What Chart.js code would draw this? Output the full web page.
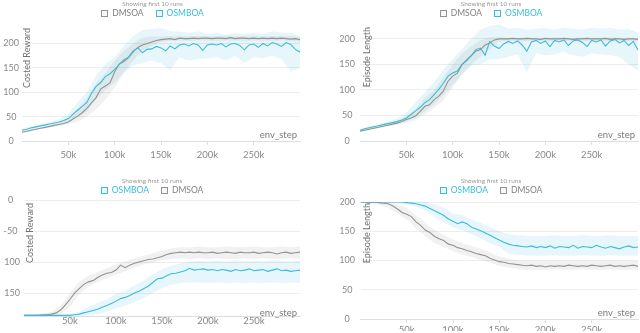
<!DOCTYPE html>
<html><head><meta charset="utf-8">
<script src="https://cdn.jsdelivr.net/npm/chart.js@4.4.1/dist/chart.umd.min.js"></script>
<style>
html,body{margin:0;padding:0;background:#fff;}
#wrap{position:relative;width:640px;height:333px;overflow:hidden;background:#fff;}
canvas{position:absolute;left:0;top:0;}
</style>
</head><body>
<div id="wrap">
<canvas id="c1" width="640" height="333"></canvas>
<canvas id="c2" width="640" height="333"></canvas>
<canvas id="c3" width="640" height="333"></canvas>
<canvas id="c4" width="640" height="333"></canvas>
</div>
<script>
// ---------- DATA ----------
const SUBTITLE = 'Showing first 10 runs';
const seriesNames = ['DMSOA', 'OSMBOA'];
const stepsK = [0,5,10,15,20,25,30,35,40,45,50,55,60,65,70,75,80,85,90,95,100,105,110,115,120,125,130,135,140,145,150,155,160,165,170,175,180,185,190,195,200,205,210,215,220,225,230,235,240,245,250,255,260,265,270,275,280,285,290,295,300];
const bandStepsK = [0,10,20,30,40,50,60,70,80,90,100,110,120,130,140,150,160,170,180,190,200,210,220,230,240,250,260,270,280,290,300];
const xTicksK = [50,100,150,200,250];

// Top-left: Costed Reward
const tlYTicks = [0,50,100,150,200];
const tlDmsoa = [18,20,22,24,26,28,30,32,34,36, 39,45,51,58,67,78,89,107,113,119, 142,158,163,171,183,192,197,200,203,206, 208,209,210,208,211,210,210,211,210,211, 211,210,211,211,210,212,210,211,211,210, 211,210,211,210,211,210,211,210,209,210, 208];
const tlOsmboa = [22,24,27,29,31,33,35,37,39,42, 46,55,63,71,79,98,112,120,132,138, 147,157,167,172,185,191,181,188,189,194, 191,185,195,189,197,199,195,200,197,186, 197,199,197,200,193,199,200,196,187,197, 199,192,200,195,202,199,194,202,198,188, 182];
const tlDmsoaLo = [16,20,24,28,31,34,40,50,65,85, 110,140,165,185,195,203,205,206,205,206, 206,205,206,206,205,206,206,205,206,205, 203];
const tlDmsoaHi = [20,24,28,33,38,46,66,88,118,140, 165,185,200,212,215,214,215,215,215,216, 215,215,216,215,215,216,215,215,216,215, 214];
const tlOsmboaLo = [20,24,28,32,35,38,48,60,85,105, 120,140,155,160,165,160,145,172,165,168, 170,172,165,175,160,172,170,175,168,142, 150];
const tlOsmboaHi = [25,30,34,39,45,56,80,100,135,158, 172,195,215,228,230,232,225,224,222,225, 220,222,218,222,220,222,220,225,222,222, 215];

// Top-right: Episode Length
const trYTicks = [0,50,100,150,200];
const trDmsoa = [19,21,23,25,27,29,31,33,35,38, 42,45,49,58,68,71,81,88,98,117, 127,133,149,159,167,176,179,188,192,198, 200,200,200,201,200,200,201,200,200,199, 201,200,200,200,201,200,199,200,200,201, 200,200,200,201,199,200,200,199,200,200, 199];
const trOsmboa = [21,24,26,28,30,32,34,36,38,41, 45,52,59,66,75,81,91,101,113,127, 133,137,150,157,167,179,182,168,195,186, 181,190,195,191,196,188,176,194,197,191, 196,185,197,194,198,187,196,198,193,185, 197,194,198,186,196,199,192,197,187,195, 178];
const trDmsoaLo = [17,21,25,29,32,36,40,52,65,80, 105,130,150,165,180,195,196,196,195,196, 196,195,196,196,195,196,196,195,196,196, 195];
const trDmsoaHi = [21,25,29,34,39,48,62,85,100,125, 150,172,185,198,203,203,202,202,203,202, 202,203,202,202,203,202,202,203,202,202, 202];
const trOsmboaLo = [19,23,27,31,34,38,46,58,72,90, 110,130,148,150,160,160,165,170,135,172, 168,170,175,168,165,172,170,168,165,150, 138];
const trOsmboaHi = [24,29,33,38,44,56,76,95,115,140, 160,180,200,218,225,228,220,222,218,220, 222,218,222,220,218,222,220,222,218,220, 212];

// Bottom-left: Costed Reward
const blYTicks = [0,-50,-100,-150];
const blDmsoa = [-186,-186,-186,-186,-185,-185,-184,-182,-177,-169, -160,-150,-143,-136,-132,-130,-125,-121,-118,-117, -113,-105,-109,-105,-102,-100,-98,-96,-95,-93, -91,-88,-86,-85,-84,-85,-84,-85,-84,-85, -85,-84,-86,-85,-84,-85,-86,-84,-85,-85, -84,-86,-85,-84,-85,-87,-85,-84,-86,-85, -84];
const blOsmboa = [-186,-186,-186,-186,-186,-186,-186,-186,-186,-186, -186,-185,-184,-182,-180,-178,-176,-173,-170,-167, -163,-159,-157,-154,-150,-147,-143,-139,-133,-127, -126,-122,-119,-118,-116,-114,-110,-113,-112,-111, -113,-112,-114,-112,-113,-115,-112,-114,-113,-111, -114,-113,-112,-115,-113,-111,-114,-113,-115,-114, -113];
const blDmsoaLo = [-187,-187,-187,-187,-184,-172,-152,-140,-132,-126, -120,-115,-109,-104,-101,-97,-95,-94,-95,-94, -95,-94,-95,-95,-94,-95,-94,-95,-95,-94, -95];
const blDmsoaHi = [-184,-184,-183,-180,-170,-150,-132,-122,-116,-110, -104,-99,-94,-90,-86,-81,-78,-76,-76,-75, -76,-76,-75,-76,-76,-75,-76,-76,-75,-76, -75];
const blOsmboaLo = [-187,-187,-187,-187,-187,-187,-187,-186,-184,-180, -175,-170,-165,-158,-150,-142,-137,-134,-133,-133, -134,-133,-134,-133,-134,-133,-134,-133,-134,-133, -134];
const blOsmboaHi = [-185,-185,-185,-185,-185,-184,-180,-172,-166,-160, -152,-146,-138,-130,-120,-112,-106,-102,-99,-98, -99,-98,-99,-97,-99,-98,-99,-97,-98,-99, -98];

// Bottom-right: Episode Length
const brYTicks = [0,50,100,150,200];
const brDmsoa = [200,200,199,200,199,198,197,193,188,182, 179,175,166,160,152,148,141,137,134,128, 126,122,120,117,115,112,110,108,104,101, 98,97,95,94,93,92,91,92,90,91, 89,91,90,91,90,92,91,90,91,90, 92,91,90,91,92,90,91,90,91,92, 90];
const brOsmboa = [200,200,200,200,200,200,200,200,200,200, 199,198,197,195,193,189,185,181,177,171, 167,163,166,163,157,154,151,147,143,139, 135,131,128,126,125,124,123,125,122,124, 122,125,121,124,123,122,126,121,124,123, 122,126,123,121,124,122,120,123,125,122, 123];
const brDmsoaLo = [198,197,195,190,180,170,155,142,130,123, 116,110,106,101,96,91,88,85,84,84, 84,85,84,84,85,84,84,85,84,84, 84];
const brDmsoaHi = [200,200,200,200,196,190,177,164,152,144, 136,130,125,120,114,107,103,100,99,99, 99,100,99,99,100,99,99,100,99,99, 99];
const brOsmboaLo = [199,199,199,199,198,196,192,185,175,166, 157,152,145,138,130,123,112,110,108,108, 108,109,108,108,109,108,108,109,108,108, 108];
const brOsmboaHi = [200,200,200,200,200,200,200,200,196,190, 180,178,170,164,157,150,145,143,142,142, 142,143,142,142,143,142,142,143,142,142, 142];

// ---------- STYLE ----------
const LINE_COLORS = {DMSOA:'#939393', OSMBOA:'#3bbcd9'};
const BAND_COLORS = {DMSOA:'rgba(140,140,140,0.12)', OSMBOA:'rgba(59,188,217,0.13)'};
const LEGEND_FILL = {DMSOA:'rgba(140,140,140,0.06)', OSMBOA:'rgba(59,188,217,0.12)'};
const LEGEND_TEXT = {DMSOA:'#808080', OSMBOA:'#3bbcd9'};
const FONT = 'Lato';

const panels = [
  {id:'c1', area:{l:22,r:300,t:24,b:141}, yMin:0, yMax:240, yTicks:tlYTicks, yPad:3, xPad:4, xh:20,
   yTitle:'Costed Reward', titleX:27, titleTop:28, envX:297, envY:135, legendX:152.5, subY:4, legY:13.5,
   legend:['DMSOA','OSMBOA'], lineOrder:['OSMBOA','DMSOA'],
   data:{DMSOA:{mean:tlDmsoa, lo:tlDmsoaLo, hi:tlDmsoaHi}, OSMBOA:{mean:tlOsmboa, lo:tlOsmboaLo, hi:tlOsmboaHi}}},
  {id:'c2', area:{l:360,r:638,t:21,b:141}, yMin:0, yMax:235, yTicks:trYTicks, yPad:5, xPad:4, xh:20,
   yTitle:'Episode Length', titleX:367, titleTop:27, envX:635, envY:135, legendX:491, subY:4, legY:13.5,
   legend:['DMSOA','OSMBOA'], lineOrder:['OSMBOA','DMSOA'],
   data:{DMSOA:{mean:trDmsoa, lo:trDmsoaLo, hi:trDmsoaHi}, OSMBOA:{mean:trOsmboa, lo:trOsmboaLo, hi:trOsmboaHi}}},
  {id:'c3', area:{l:24,r:300,t:200,b:316}, yMin:-187, yMax:0, yTicks:blYTicks, yPad:4, xPad:-5, xh:12,
   yTitle:'Costed Reward', titleX:30, titleTop:203, envX:297, envY:312.5, legendX:152, subY:180.5, legY:190.5,
   legend:['OSMBOA','DMSOA'], lineOrder:['OSMBOA','DMSOA'],
   data:{DMSOA:{mean:blDmsoa, lo:blDmsoaLo, hi:blDmsoaHi}, OSMBOA:{mean:blOsmboa, lo:blOsmboaLo, hi:blOsmboaHi}}},
  {id:'c4', area:{l:360.5,r:638,t:202,b:319}, yMin:0, yMax:200, yTicks:brYTicks, yPad:5.5, xPad:1, xh:12,
   yTitle:'Episode Length', titleX:367, titleTop:203, envX:635, envY:312.5, legendX:491, subY:181, legY:190.5,
   legend:['OSMBOA','DMSOA'], lineOrder:['OSMBOA','DMSOA'],
   data:{DMSOA:{mean:brDmsoa, lo:brDmsoaLo, hi:brDmsoaHi}, OSMBOA:{mean:brOsmboa, lo:brOsmboaLo, hi:brOsmboaHi}}}
];

function pts(xsK, ys){ return ys.map((y,i)=>({x: xsK[i]*1000, y: y})); }

function overlay(p){
  return {id:'overlay_'+p.id, afterDraw(chart){
    const ctx = chart.ctx;
    ctx.save();
    ctx.textBaseline = 'middle';
    ctx.textAlign = 'center';
    ctx.fillStyle = '#9a9a9a';
    ctx.font = '6.5px ' + FONT;
    ctx.fillText(SUBTITLE, p.legendX, p.subY);
    ctx.font = '8.5px ' + FONT;
    const box = 7, gap = 4, sep = 12;
    const widths = p.legend.map(n => ctx.measureText(n).width);
    const total = widths.reduce((a,w)=>a+box+gap+w,0) + sep*(p.legend.length-1);
    let x = p.legendX - total/2;
    p.legend.forEach((n,i)=>{
      const y0 = Math.round(p.legY - box/2);
      const xr = Math.round(x);
      ctx.fillStyle = LEGEND_FILL[n];
      ctx.fillRect(xr, y0, box, box);
      ctx.strokeStyle = LINE_COLORS[n];
      ctx.lineWidth = 1;
      ctx.strokeRect(xr+0.5, y0+0.5, box-1, box-1);
      ctx.fillStyle = LEGEND_TEXT[n];
      ctx.textAlign = 'left';
      ctx.fillText(n, x+box+gap, p.legY);
      x += box+gap+widths[i]+sep;
    });
    ctx.save();
    ctx.translate(p.titleX, p.titleTop);
    ctx.rotate(-Math.PI/2);
    ctx.textAlign = 'right';
    ctx.fillStyle = '#707070';
    ctx.font = '9px ' + FONT;
    ctx.fillText(p.yTitle, 0, 0);
    ctx.restore();
    ctx.textAlign = 'right';
    ctx.fillStyle = '#7a7a7a';
    ctx.font = '9.5px ' + FONT;
    ctx.fillText('env_step', p.envX, p.envY);
    ctx.restore();
  }};
}

Chart.defaults.font.family = FONT;

panels.forEach(p => {
  const ds = [];
  seriesNames.forEach(name => {
    const s = p.data[name];
    const loIdx = ds.length;
    ds.push({label:name+' min', data:pts(bandStepsK, s.lo), borderWidth:0, borderColor:'rgba(0,0,0,0)', pointRadius:0, fill:false, order:10});
    ds.push({label:name+' max', data:pts(bandStepsK, s.hi), borderWidth:0, borderColor:'rgba(0,0,0,0)', pointRadius:0, fill:loIdx, backgroundColor:BAND_COLORS[name], order:10});
  });
  p.lineOrder.forEach((name,k) => {
    ds.push({label:name, data:pts(stepsK, p.data[name].mean), borderColor:LINE_COLORS[name], borderWidth:1.1, pointRadius:0, fill:false, tension:0, order:k});
  });
  const yw = 20;
  new Chart(document.getElementById(p.id), {
    type:'line',
    data:{datasets:ds},
    options:{
      responsive:false, animation:false, devicePixelRatio:1,
      layout:{padding:{left:p.area.l - yw, right:640 - p.area.r, top:p.area.t, bottom:333 - p.area.b - p.xh}},
      plugins:{legend:{display:false}, tooltip:{enabled:false}, title:{display:false}},
      scales:{
        x:{type:'linear', min:0, max:300000,
           afterFit:(s)=>{ s.height = p.xh; },
           afterBuildTicks:(s)=>{ s.ticks = xTicksK.map(v=>({value:v*1000})); },
           ticks:{callback:(v)=>(v/1000)+'k', font:{size:9.5, family:FONT}, color:'#888', padding:p.xPad, maxRotation:0, autoSkip:false},
           grid:{display:true, drawOnChartArea:false, drawTicks:true, tickLength:4, color:'#dedede'},
           border:{display:true, color:'#dedede'}},
        y:{type:'linear', min:p.yMin, max:p.yMax,
           afterFit:(s)=>{ s.width = yw; },
           afterBuildTicks:(s)=>{ s.ticks = p.yTicks.map(v=>({value:v})); },
           ticks:{callback:(v)=>String(v), font:{size:9, family:FONT}, color:'#888', padding:p.yPad, crossAlign:'center', autoSkip:false},
           grid:{color:'#ededed', drawTicks:false},
           border:{display:false}}
      }
    },
    plugins:[overlay(p)]
  });
});
</script>
</body></html>
